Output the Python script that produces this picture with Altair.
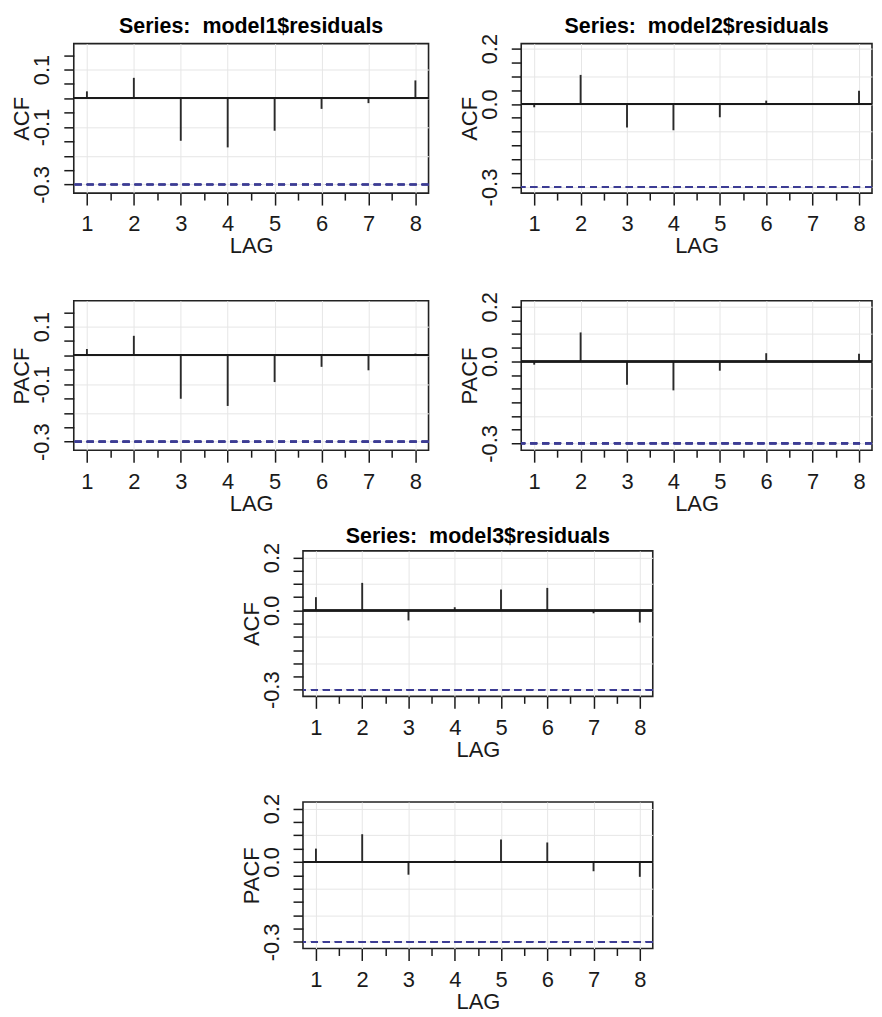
import altair as alt
import pandas as pd

# ---- data ----
lags = [1, 2, 3, 4, 5, 6, 7, 8]
m1_acf = [0.024, 0.071, -0.148, -0.171, -0.113, -0.037, -0.017, 0.062]
m1_pacf = [0.022, 0.068, -0.151, -0.176, -0.093, -0.040, -0.052, 0.006]
m2_acf = [-0.012, 0.105, -0.085, -0.095, -0.048, 0.012, -0.002, 0.048]
m2_pacf = [-0.012, 0.106, -0.085, -0.106, -0.034, 0.030, -0.003, 0.028]
m3_acf = [0.050, 0.104, -0.038, 0.012, 0.079, 0.085, -0.011, -0.046]
m3_pacf = [0.050, 0.104, -0.048, 0.005, 0.084, 0.073, -0.035, -0.056]
conf_lower = -0.3

titles = ["Series: \u00a0model1$residuals",
          "Series: \u00a0model2$residuals",
          "Series: \u00a0model3$residuals"]
x_ticks = [1, 1.5, 2, 2.5, 3, 3.5, 4, 4.5, 5, 5.5, 6, 6.5, 7, 7.5, 8]
y_ticks_a = [-0.3, -0.25, -0.2, -0.15, -0.1, -0.05, 0.0, 0.05, 0.1, 0.15]
y_ticks_b = [-0.3, -0.25, -0.2, -0.15, -0.1, -0.05, 0.0, 0.05, 0.1, 0.15, 0.2]
y_labels_a = [0.1, -0.1, -0.3]
y_labels_b = [0.2, 0.0, -0.3]

FONT = "Liberation Sans"
INK = "#1a1a1a"


def x_axis():
    return alt.Axis(
        values=x_ticks, tickCount=60,
        labelExpr="datum.value % 1 == 0 ? format(datum.value, 'd') : ''",
        tickSize={"condition": {"test": "datum.value % 1 == 0", "value": 12}, "value": 7},
        gridOpacity={"condition": {"test": "datum.value % 1 == 0", "value": 1}, "value": 0},
        grid=True, gridColor="#e6e6e6", gridWidth=1,
        domain=False, tickColor=INK, tickWidth=1.5,
        labelFontSize=22, labelColor=INK, labelPadding=9, labelFlush=False,
        labelOverlap=False, labelAngle=0,
        title="LAG", titleFontSize=22, titleFontWeight="normal", titleColor=INK,
        titlePadding=1,
    )


def y_axis(ticks, labels, title):
    codes = "[" + ",".join(str(int(round(v * 100))) for v in labels) + "]"
    return alt.Axis(
        values=ticks, tickCount=60,
        labelExpr=("indexof(" + codes + ", round(datum.value*100)) >= 0 ? "
                   "replace(format(datum.value, '.1f'), '\u2212', '-') : ''"),
        gridOpacity={"condition": {"test": "abs(round(datum.value*100)) % 10 == 0", "value": 1},
                     "value": 0},
        grid=True, gridColor="#e6e6e6", gridWidth=1,
        domain=False, tickColor=INK, tickWidth=1.5, tickSize=10,
        labelAngle=270, labelAlign="center", labelBaseline="bottom",
        labelFontSize=22, labelColor=INK, labelPadding=10, labelFlush=False,
        labelOverlap=False,
        title=title, titleFontSize=22, titleFontWeight="normal", titleColor=INK,
        titlePadding=-3,
    )


def panel(vals, ylab, ydom, ticks, labels, w, h, title=None, title_offset=6):
    df = pd.DataFrame({"lag": lags, "v": vals})
    xs = alt.Scale(domain=[0.72, 8.28], nice=False, zero=False)
    ys = alt.Scale(domain=ydom, nice=False, zero=False)
    base = alt.Chart(df)
    conf = base.mark_rule(color="#3c3c94", strokeWidth=1.6, strokeDash=[7, 5]).encode(
        y=alt.Y(datum=conf_lower, scale=ys))
    zero = base.mark_rule(color=INK, strokeWidth=1.5).encode(
        y=alt.Y(datum=0, scale=ys))
    spikes = base.mark_rule(color="#2a2a2a", strokeWidth=1.9).encode(
        x=alt.X("lag:Q", scale=xs, axis=x_axis()),
        y=alt.Y("v:Q", scale=ys, axis=y_axis(ticks, labels, ylab)),
        y2=alt.Y2(datum=0),
    )
    props = dict(width=w, height=h)
    if title:
        props["title"] = alt.TitleParams(
            text=title, font=FONT, fontSize=21.5, fontWeight="bold", color="black",
            anchor="middle", frame="group", offset=title_offset)
    return alt.layer(spikes, conf, zero).properties(**props)


p1a = panel(m1_acf, "ACF", [-0.33, 0.19], y_ticks_a, y_labels_a, 356, 150, titles[0], 6)
p2a = panel(m2_acf, "ACF", [-0.322, 0.218], y_ticks_b, y_labels_b, 352, 150, titles[1], -4)
p1p = panel(m1_pacf, "PACF", [-0.33, 0.19], y_ticks_a, y_labels_a, 356, 150)
p2p = panel(m2_pacf, "PACF", [-0.325, 0.222], y_ticks_b, y_labels_b, 352, 150)
p3a = panel(m3_acf, "ACF", [-0.325, 0.225], y_ticks_b, y_labels_b, 351, 146, titles[2], -5)
p3p = panel(m3_pacf, "PACF", [-0.325, 0.225], y_ticks_b, y_labels_b, 351, 147)

spacer = alt.Chart(pd.DataFrame({"s": [0]})).mark_point(opacity=0).encode(
    x=alt.X("s:Q", axis=None), y=alt.Y("s:Q", axis=None)
).properties(width=166, height=10, view=alt.ViewBackground(strokeOpacity=0))

top = alt.vconcat(alt.hconcat(p1a, p2a, spacing=27),
                  alt.hconcat(p1p, p2p, spacing=27), spacing=32)
bottom = alt.hconcat(spacer, alt.vconcat(p3a, p3p, spacing=31), spacing=0)

chart = alt.vconcat(top, bottom, spacing=10).properties(
    padding={"left": 2, "top": 5, "right": 0, "bottom": 0}
).configure(font=FONT).configure_view(stroke="#222222", strokeWidth=1.6).configure_axis(
    labelFont=FONT, titleFont=FONT)

chart.save("out.html", embed_options={"renderer": "svg", "actions": False})
